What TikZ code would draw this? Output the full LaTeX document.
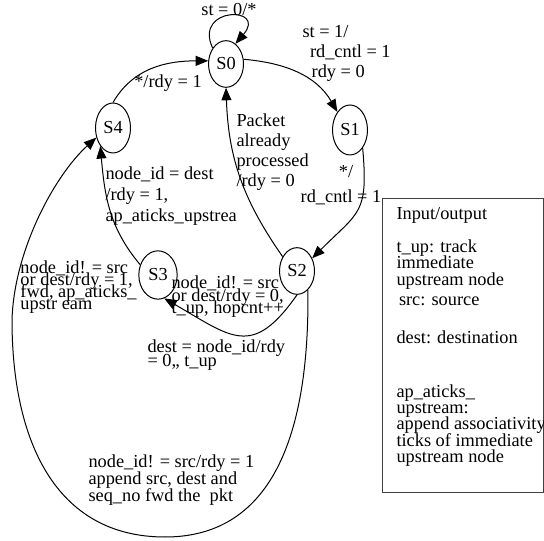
\documentclass[tikz,border=0pt]{standalone}
\usepackage{fontspec}
\setmainfont{Liberation Serif}
\usetikzlibrary{shapes.geometric, arrows.meta}

\begin{document}
\begin{tikzpicture}[x=0.6pt, y=0.6pt, line width=0.6pt,
  >={Triangle[length=7.5pt, width=6pt]},
  state/.style={shape=ellipse, draw, inner sep=0pt, minimum width=21pt,
    minimum height=28pt, font=\fontsize{11}{12}\selectfont},
  lbl/.style={inner sep=0pt, align=left, anchor=west,
    font=\fontsize{11}{#1}\selectfont\lineskiplimit-100pt\relax},
  lbl/.default=12pt]
  \useasboundingbox (0, 0) rectangle (544, 540);
  % states
  \node (S0) at (226, 476) [state] {S0};
  \node (S1) at (350, 410) [state, minimum height=30pt] {S1};
  \node (S4) at (113, 412) [state, minimum height=30pt] {S4};
  \node (S2) at (297, 269) [state] {S2};
  \node (S3) at (158, 265) [state, minimum width=23pt, minimum height=29pt] {S3};
  \coordinate (loopbot) at (165, 3);
  \coordinate (loopleft) at (12, 220);
  % transitions
  \draw[->] (S0.130) .. controls (193, 534) and (268, 534) .. (S0.65);
  \draw[->] (S0.15) to[out=-5, in=120] (S1.125);
  \draw[->] (S1.305) to[out=-85, in=45, looseness=1.4] (S2.40);
  \draw[->] (S2.135) to[out=125, in=-88] (S0.south);
  \draw[->] (S4.north) to[out=60, in=180] (S0.170);
  \draw[->] (S3.150) to[out=130, in=-85] (S4.235);
  \draw[->] (S2.south) to[out=-125, in=-30, looseness=1.5] (S3.285);
  \draw[->] (S2.300) .. controls (310, 60) and (245, 3) .. (loopbot)
    .. controls (55, 3) and (12, 100) .. (loopleft)
    .. controls (14, 290) and (55, 365) .. (S4.210);
  % labels
  \node (st0) at (229, 530) [lbl, anchor=center] {st = 0/*};
  \node (st1) at (302, 487) [lbl] {st = 1/\\\hspace*{4.5pt}rd\_cntl = 1\\\hspace*{5.5pt}rdy = 0};
  \node (rdy1) at (168, 457) [lbl, anchor=center] {*/rdy = 1};
  \node (pkt) at (236, 388) [lbl] {Packet\\already\\processed\\/rdy = 0};
  \node (rdc) at (341, 355) [lbl=15pt, anchor=center, align=center] {\hspace*{6pt}*/\\rd\_cntl = 1};
  \node (dst) at (105, 344) [lbl=12.5pt] {node\_id = dest\\/rdy = 1,\\ap\_aticks\_upstrea};
  \node (fwd) at (20, 253) [lbl=7.2pt] {node\_id! = src\\or dest/rdy = 1,\\fwd, ap\_aticks\_\\upstr eam};
  \node (hop) at (171, 243) [lbl=7.5pt] {node\_id! = src\\or dest/rdy = 0,\\t\_up, hopcnt++};
  \node (tup) at (147, 185) [lbl=8.4pt] {dest = node\_id/rdy\\= 0,, t\_up};
  \node (app) at (88, 60) [lbl=10pt] {node\_id! = src/rdy = 1\\append src, dest and\\seq\_no fwd the~ pkt};
  % legend
  \node (legend) at (382, 342) [draw=black!75, anchor=north west, inner sep=0pt,
    minimum width=96.6pt, minimum height=176.4pt] {};
  \node (legtext) at (396, 333) [lbl=9.8pt, anchor=north west] {Input/output\\[10pt]
    t\_up: track\\immediate\\upstream node\\[2.2pt]
    \hspace*{1.5pt}src: source\\[13pt]
    dest: destination\\[22.6pt]
    ap\_aticks\_\\upstream:\\append associativity\\ticks of immediate\\upstream node};
\end{tikzpicture}
\end{document}
